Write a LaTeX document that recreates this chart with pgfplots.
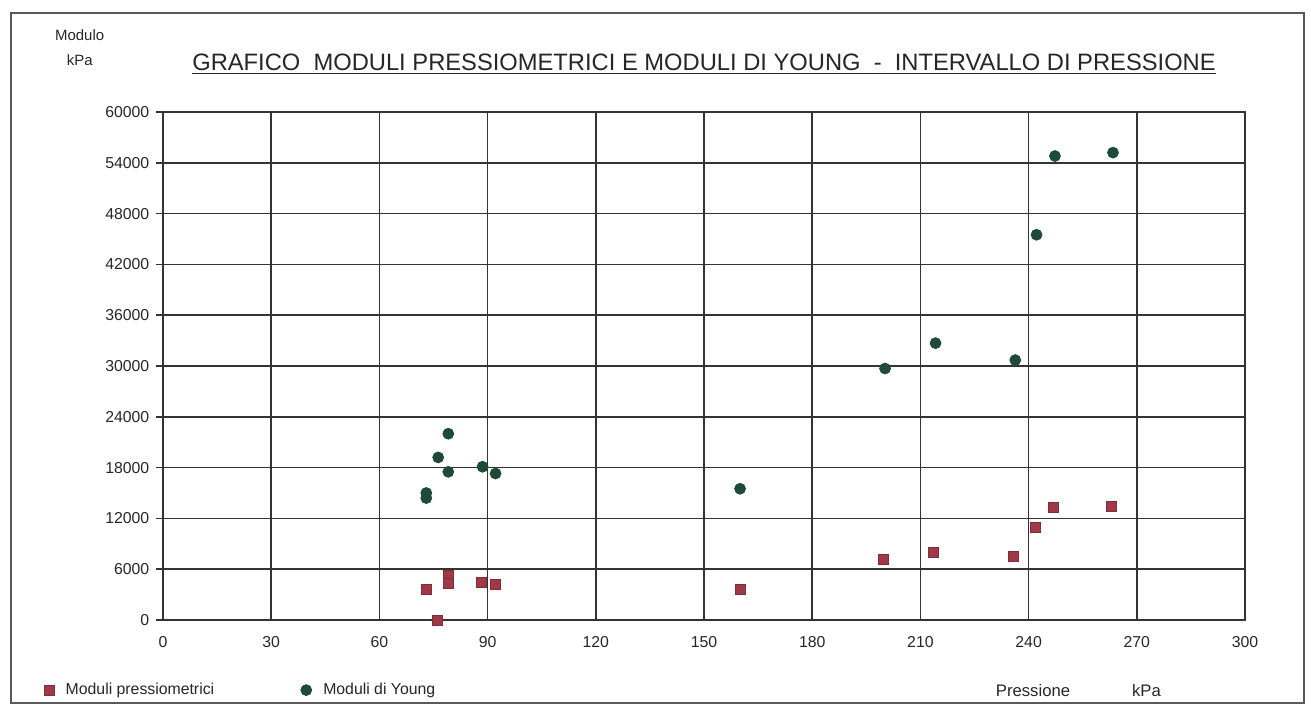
\documentclass[border=0pt]{standalone}
\usepackage{fontspec}
\setmainfont{Liberation Sans}
\usepackage{pgfplots}
\pgfplotsset{compat=1.18}
\definecolor{redm}{HTML}{A03848}
\definecolor{greenm}{HTML}{1E4A38}
\definecolor{gridc}{HTML}{333333}
\begin{document}
\begin{tikzpicture}[x=1mm,y=1mm]
\useasboundingbox (0,0) rectangle (262.2,141.8);
\draw[black!65, line width=0.8pt] (2.2,1.2) rectangle (260.8,139.2);
\begin{axis}[
  at={(32.6mm,17.8mm)}, anchor=south west,
  scale only axis, width=216.4mm, height=101.6mm,
  xmin=0, xmax=300, ymin=0, ymax=60000,
  xtick={0,30,...,300}, ytick={0,6000,...,60000},
  scaled ticks=false,
  /pgf/number format/assume math mode=true,
  /pgf/number format/set thousands separator={},
  grid=major,
  major grid style={gridc, line width=0.95pt},
  axis line style={gridc, line width=0.95pt},
  tick align=outside, major tick length=1.5mm,
  ytick style={gridc, line width=0.95pt},
  xtick style={draw=none},
  xtick pos=bottom, ytick pos=left,
  tick label style={font=\fontsize{9}{10}\selectfont, text=black!85},
  xticklabel style={yshift=-0.6mm},
  clip=false,
  title={\underline{GRAFICO\ \ MODULI PRESSIOMETRICI E MODULI DI YOUNG\ \ -\ \ INTERVALLO DI PRESSIONE}},
  title style={at={(0.5,1.074)}, anchor=center, font=\fontsize{13.5}{15}\selectfont, text=black!85},
  ylabel={Modulo\\kPa},
  ylabel style={at={(-0.077,1.127)}, anchor=center, rotate=-90, align=center, font=\fontsize{8.5}{14}\selectfont, text=black!85},
  xlabel={Pressione\hspace{12.4mm}kPa},
  xlabel style={at={(0.764,-0.138)}, anchor=west, font=\fontsize{9.5}{10}\selectfont, text=black!85},
  legend style={at={(-0.115,-0.138)}, anchor=west, draw=none, fill=none,
    legend columns=2, font=\fontsize{9}{10}\selectfont, text=black!85,
    /tikz/every odd column/.append style={column sep=1.6mm},
    /tikz/every even column/.append style={column sep=16.6mm}},
  legend cell align=left,
]
\addplot[only marks, mark=square*, mark size=1mm, mark options={fill=redm, draw=redm!80!black}]
coordinates {
(73,3600) (76,0) (79.1,5300) (79.1,4300) (88.3,4400) (92.2,4200)
(160,3600) (199.8,7200) (213.6,8000) (235.8,7500) (241.9,11000)
(246.8,13300) (262.9,13400)
};
\addlegendentry{Moduli pressiometrici}
\addplot[only marks, mark=*, mark size=1.1mm, mark options={fill=greenm, draw=greenm}]
coordinates {
(73,15000) (73,14400) (76.3,19200) (79.1,22000) (79.1,17500)
(88.6,18100) (92.2,17300) (160,15500) (200.2,29700) (214.2,32700)
(236.3,30700) (242.2,45500) (247.3,54800) (263.4,55200)
};
\addlegendentry{Moduli di Young}
\end{axis}
\end{tikzpicture}
\end{document}
